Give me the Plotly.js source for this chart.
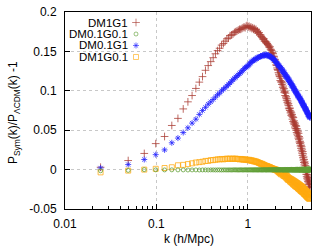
<!DOCTYPE html>
<html>
<head>
<meta charset="utf-8">
<script src="https://cdn.plot.ly/plotly-3.0.1.min.js"></script>
<style>html,body{margin:0;padding:0;background:#fff;}#plot{width:332px;height:248px;}</style>
</head>
<body>
<div id="plot"></div>
<script>
// k (h/Mpc) bins
var k = [
0.0245,0.0491,0.0736,0.0982,0.1227,0.1472,0.1718,0.1963,0.2209,0.2454,
0.2699,0.2945,0.3190,0.3436,0.3681,0.3926,0.4172,0.4417,0.4663,0.4908,
0.5153,0.5399,0.5644,0.5890,0.6135,0.6380,0.6626,0.6871,0.7117,0.7362,
0.7607,0.7853,0.8098,0.8344,0.8589,0.8834,0.9080,0.9325,0.9571,0.9816,
1.0061,1.0307,1.0552,1.0798,1.1043,1.1288,1.1534,1.1779,1.2025,1.2270,
1.2515,1.2761,1.3006,1.3252,1.3497,1.3742,1.3988,1.4233,1.4479,1.4724,
1.4969,1.5215,1.5460,1.5706,1.5951,1.6196,1.6442,1.6687,1.6933,1.7178,
1.7423,1.7669,1.7914,1.8160,1.8405,1.8650,1.8896,1.9141,1.9387,1.9632,
1.9877,2.0123,2.0368,2.0614,2.0859,2.1104,2.1350,2.1595,2.1841,2.2086,
2.2331,2.2577,2.2822,2.3068,2.3313,2.3558,2.3804,2.4049,2.4295,2.4540,
2.4785,2.5031,2.5276,2.5522,2.5767,2.6012,2.6258,2.6503,2.6749,2.6994,
2.7239,2.7485,2.7730,2.7976,2.8221,2.8466,2.8712,2.8957,2.9203,2.9448,
2.9693,2.9939,3.0184,3.0430,3.0675,3.0920,3.1166,3.1411,3.1657,3.1902,
3.2147,3.2393,3.2638,3.2884,3.3129,3.3374,3.3620,3.3865,3.4111,3.4356,
3.4601,3.4847,3.5092,3.5338,3.5583,3.5828,3.6074,3.6319,3.6565,3.6810,
3.7055,3.7301,3.7546,3.7792,3.8037,3.8282,3.8528,3.8773,3.9019,3.9264,
3.9509,3.9755,4.0000,4.0246,4.0491,4.0736,4.0982,4.1227,4.1473,4.1718,
4.1963,4.2209,4.2454,4.2700,4.2945,4.3190,4.3436,4.3681,4.3927,4.4172,
4.4417,4.4663,4.4908,4.5154,4.5399,4.5644,4.5890,4.6135,4.6381,4.6626,
4.6871,4.7117,4.7362,4.7608,4.7853];

var DM1G1 = [
0.003,0.0115,0.0205,0.033,0.042,0.056,0.065,0.077,0.086,0.094,
0.103,0.111,0.118,0.126,0.132,0.137,0.142,0.147,0.151,0.154,
0.158,0.160,0.163,0.166,0.167,0.170,0.171,0.172,0.174,0.175,
0.176,0.177,0.178,0.178,0.179,0.180,0.181,0.180,0.182,0.183,
0.181,0.182,0.180,0.181,0.179,0.180,0.178,0.179,0.177,0.178,
0.175,0.176,0.173,0.174,0.171,0.171,0.169,0.168,0.167,0.165,
0.166,0.163,0.163,0.161,0.162,0.160,0.159,0.158,0.157,0.155,
0.156,0.153,0.152,0.151,0.149,0.148,0.147,0.144,0.143,0.140,
0.139,0.136,0.133,0.132,0.129,0.127,0.126,0.123,0.121,0.119,
0.118,0.113,0.116,0.111,0.112,0.108,0.110,0.104,0.106,0.101,
0.103,0.098,0.099,0.094,0.097,0.091,0.093,0.088,0.090,0.085,
0.087,0.082,0.084,0.078,0.081,0.077,0.075,0.078,0.072,0.074,
0.069,0.072,0.068,0.070,0.064,0.067,0.061,0.066,0.059,0.062,
0.057,0.060,0.054,0.058,0.052,0.056,0.050,0.055,0.047,0.052,
0.045,0.050,0.043,0.048,0.040,0.046,0.038,0.042,0.035,0.040,
0.033,0.036,0.030,0.034,0.027,0.031,0.024,0.029,0.021,0.026,
0.018,0.023,0.015,0.020,0.012,0.016,0.009,0.013,0.006,0.010,
0.003,0.008,0.000,0.005,-0.003,0.002,-0.006,-0.001,-0.009,-0.003,
-0.011,-0.006,-0.013,-0.008,-0.015,-0.010,-0.017,-0.012,-0.019,-0.014,
-0.021,-0.016,-0.023,-0.018,-0.022];

var DM01G01 = [
-0.0015,-0.001,0.000,-0.0003,-0.0004,-0.0003,-0.0004,-0.0004,-0.0005,-0.0004,
-0.0004,-0.0005,-0.0004,-0.0004,-0.0005,-0.0004,-0.0004,-0.0005,-0.0004,-0.0004,
-0.0005,-0.0004,-0.0004,-0.0005,-0.0004,-0.0004,-0.0005,-0.0004,-0.0003,-0.0004,
-0.0004,-0.0005,-0.0004,-0.0003,-0.0004,-0.0005,-0.0004,-0.0003,-0.0004,-0.0004,
-0.0005,-0.0003,-0.0004,-0.0004,-0.0003,-0.0005,-0.0004,-0.0003,-0.0004,-0.0004,
-0.0003,-0.0005,-0.0004,-0.0003,-0.0004,-0.0002,-0.0004,-0.0005,-0.0003,-0.0004,
-0.0003,-0.0004,-0.0002,-0.0004,-0.0005,-0.0003,-0.0004,-0.0002,-0.0003,-0.0004,
-0.0002,-0.0004,-0.0003,-0.0005,-0.0002,-0.0003,-0.0004,-0.0001,-0.0003,-0.0004,
-0.0002,-0.0005,0.0000,-0.0003,-0.0006,-0.0001,-0.0004,-0.0002,-0.0005,0.0000,
-0.0003,-0.0006,-0.0001,-0.0004,0.0001,-0.0005,-0.0002,-0.0006,0.0000,-0.0003,
-0.0007,0.0001,-0.0004,-0.0001,-0.0006,0.0002,-0.0003,-0.0007,0.0000,-0.0004,
0.0002,-0.0006,-0.0001,-0.0008,0.0001,-0.0003,-0.0006,0.0003,-0.0002,-0.0007,
0.0001,-0.0004,0.0003,-0.0008,-0.0001,0.0002,-0.0006,0.0000,-0.0009,0.0003,
-0.0003,0.0001,-0.0007,0.0004,-0.0002,-0.0009,0.0002,-0.0004,0.0004,-0.0008,
0.0000,0.0005,-0.0006,-0.0002,0.0003,-0.0010,0.0001,-0.0005,0.0005,-0.0003,
-0.0009,0.0004,0.0000,-0.0007,0.0006,-0.0002,-0.0010,0.0003,-0.0005,0.0006,
-0.0001,-0.0008,0.0005,-0.0004,0.0007,-0.0010,0.0002,-0.0006,0.0006,-0.0002,
-0.0011,0.0004,-0.0003,0.0008,-0.0007,0.0001,-0.0009,0.0007,-0.0004,0.0003,
-0.0012,0.0006,-0.0002,0.0009,-0.0008,0.0002,-0.0010,0.0008,-0.0005,0.0004,
-0.0012,0.0007,-0.0003,0.0010,-0.0008];

var DM01G1 = [
0.002,0.0064,0.0128,0.019,0.025,0.034,0.040,0.047,0.053,0.059,
0.064,0.070,0.075,0.079,0.083,0.086,0.089,0.092,0.095,0.097,
0.100,0.102,0.104,0.106,0.108,0.110,0.112,0.114,0.116,0.117,
0.119,0.120,0.122,0.123,0.125,0.126,0.128,0.129,0.130,0.131,
0.132,0.133,0.135,0.136,0.137,0.138,0.139,0.139,0.140,0.141,
0.141,0.142,0.142,0.143,0.143,0.144,0.144,0.144,0.145,0.145,
0.145,0.145,0.146,0.145,0.146,0.145,0.145,0.145,0.144,0.144,
0.144,0.143,0.143,0.142,0.142,0.141,0.141,0.140,0.139,0.139,
0.138,0.137,0.136,0.135,0.135,0.134,0.133,0.132,0.132,0.131,
0.130,0.130,0.128,0.129,0.127,0.127,0.125,0.126,0.124,0.124,
0.122,0.123,0.121,0.121,0.119,0.120,0.118,0.118,0.117,0.117,
0.115,0.116,0.114,0.114,0.112,0.113,0.111,0.111,0.110,0.110,
0.108,0.109,0.107,0.107,0.106,0.106,0.104,0.105,0.103,0.103,
0.102,0.101,0.101,0.100,0.099,0.099,0.098,0.098,0.097,0.096,
0.096,0.095,0.094,0.094,0.093,0.093,0.092,0.092,0.091,0.091,
0.090,0.090,0.089,0.088,0.088,0.087,0.087,0.086,0.085,0.085,
0.084,0.084,0.083,0.082,0.082,0.081,0.081,0.080,0.080,0.079,
0.079,0.078,0.078,0.077,0.076,0.076,0.075,0.075,0.074,0.074,
0.073,0.073,0.072,0.071,0.071,0.070,0.070,0.069,0.069,0.068,
0.068,0.067,0.067,0.066,0.066];

var DM1G01 = [
-0.0035,-0.0013,0.000,0.001,0.002,0.003,0.0055,0.006,0.007,0.008,
0.009,0.0095,0.010,0.011,0.011,0.012,0.012,0.0125,0.013,0.013,
0.0135,0.013,0.0135,0.014,0.0135,0.014,0.0135,0.014,0.0135,0.014,
0.0135,0.0135,0.013,0.0135,0.013,0.013,0.0125,0.013,0.0125,0.0125,
0.012,0.0125,0.0115,0.012,0.011,0.0115,0.0105,0.011,0.010,0.0105,
0.0095,0.0095,0.009,0.0085,0.008,0.008,0.007,0.0075,0.0065,0.0065,
0.006,0.0055,0.005,0.005,0.0045,0.0045,0.004,0.0035,0.0035,0.003,
0.003,0.0025,0.002,0.002,0.0015,0.001,0.0012,0.0005,0.0005,0.000,
0.0003,-0.0005,0.000,-0.001,-0.0005,-0.002,-0.001,-0.003,-0.002,-0.004,
-0.003,-0.005,-0.003,-0.006,-0.004,-0.005,-0.004,-0.007,-0.005,-0.008,
-0.005,-0.008,-0.006,-0.009,-0.006,-0.010,-0.007,-0.011,-0.008,-0.012,
-0.009,-0.013,-0.010,-0.013,-0.011,-0.014,-0.011,-0.015,-0.012,-0.016,
-0.012,-0.016,-0.013,-0.017,-0.013,-0.018,-0.014,-0.019,-0.014,-0.019,
-0.015,-0.020,-0.015,-0.021,-0.016,-0.021,-0.016,-0.022,-0.017,-0.022,
-0.017,-0.023,-0.018,-0.024,-0.018,-0.024,-0.019,-0.025,-0.019,-0.025,
-0.020,-0.026,-0.020,-0.027,-0.021,-0.027,-0.021,-0.028,-0.022,-0.028,
-0.022,-0.029,-0.023,-0.029,-0.024,-0.030,-0.024,-0.031,-0.025,-0.031,
-0.025,-0.032,-0.026,-0.032,-0.027,-0.033,-0.027,-0.034,-0.028,-0.034,
-0.028,-0.035,-0.029,-0.035,-0.030,-0.036,-0.030,-0.036,-0.031,-0.037,
-0.031,-0.037,-0.032,-0.036,-0.033];

var seriesNames = ["DM1G1", "DM0.1G0.1", "DM0.1G1", "DM1G0.1"];
var xTickVals = [0.01, 0.1, 1];
var xTickText = ["0.01", "0.1", "1"];
var xMinorVals = [0.02,0.03,0.04,0.05,0.06,0.07,0.08,0.09,0.2,0.3,0.4,0.5,0.6,0.7,0.8,0.9,2,3,4];
var yTickVals = [-0.05, 0, 0.05, 0.1, 0.15, 0.2];
var yTickText = ["-0.05", "0", "0.05", "0.1", "0.15", "0.2"];

var colors = ["#a83a30", "#5e9e34", "#1f1fff", "#ffaa10"];
var symbols = ["cross-thin-open", "circle-open", "asterisk-open", "square-open"];
var sizes = [5.5, 4, 5, 5];
var ys = [DM1G1, DM01G01, DM01G1, DM1G01];
var drawOrder = [0, 2, 3, 1];

var traces = drawOrder.map(function (i) {
  return {
    type: "scatter", mode: "markers", x: k, y: ys[i], name: seriesNames[i],
    marker: { symbol: symbols[i], size: sizes[i], color: colors[i], opacity: 0.85,
              line: { color: colors[i], width: 0.9 } },
    cliponaxis: true, hoverinfo: "skip"
  };
});

// custom legend (text left, symbol right as in the reference)
var legX = 0.2886, legTextX = 0.2642;
var legY = [0.9467, 0.8883, 0.830, 0.7716];
traces.push({
  type: "scatter", mode: "markers", xaxis: "x2", yaxis: "y2",
  x: legY.map(function () { return legX; }), y: legY,
  marker: { symbol: symbols, size: sizes, color: colors,
            line: { color: colors, width: 0.9 } },
  cliponaxis: false, hoverinfo: "skip"
});

var annotations = seriesNames.map(function (n, i) {
  return { text: n, xref: "paper", yref: "paper", x: legTextX, y: legY[i],
           xanchor: "right", yanchor: "middle", showarrow: false,
           font: { size: 11.5, color: "#000" } };
});
annotations.push({ text: "P<sub>Sym</sub>(k)/P<sub>ΛCDM</sub>(k) -1", textangle: -90,
  xref: "paper", yref: "paper", x: -0.205, y: 0.49, xanchor: "center", yanchor: "middle",
  showarrow: false, font: { size: 12, color: "#000" } });
annotations.push({ text: "k (h/Mpc)", xref: "paper", yref: "paper", x: 0.505, y: -0.152,
  xanchor: "center", yanchor: "middle", showarrow: false, font: { size: 12, color: "#000" } });

var layout = {
  width: 332, height: 248,
  margin: { l: 65, r: 21, t: 12, b: 39, pad: 0 },
  paper_bgcolor: "#fff", plot_bgcolor: "#fff",
  showlegend: false,
  font: { family: "Liberation Sans, Arial, sans-serif", size: 12, color: "#000" },
  xaxis: {
    type: "log", range: [-2, Math.log10(4.9)],
    tickmode: "array", tickvals: xTickVals, ticktext: xTickText,
    ticks: "inside", ticklen: 5, tickcolor: "#000", tickwidth: 1,
    showline: true, linecolor: "#000", linewidth: 1, mirror: true,
    showgrid: true, gridcolor: "#c8c8c8", griddash: "dot", gridwidth: 1,
    zeroline: false, ticklabelstandoff: 4,
    minor: { tickmode: "array", tickvals: xMinorVals, ticks: "inside", ticklen: 3,
             tickcolor: "#000", showgrid: false }
  },
  yaxis: {
    range: [-0.05, 0.2],
    tickmode: "array", tickvals: yTickVals, ticktext: yTickText,
    ticks: "inside", ticklen: 5, tickcolor: "#000", tickwidth: 1,
    showline: true, linecolor: "#000", linewidth: 1, mirror: true,
    showgrid: true, gridcolor: "#c8c8c8", griddash: "dot", gridwidth: 1,
    zeroline: false, ticklabelstandoff: 5
  },
  xaxis2: { overlaying: "x", range: [0, 1], visible: false, fixedrange: true },
  yaxis2: { overlaying: "y", range: [0, 1], visible: false, fixedrange: true },
  annotations: annotations
};

Plotly.newPlot("plot", traces, layout, { staticPlot: true, displayModeBar: false });
</script>
</body>
</html>
